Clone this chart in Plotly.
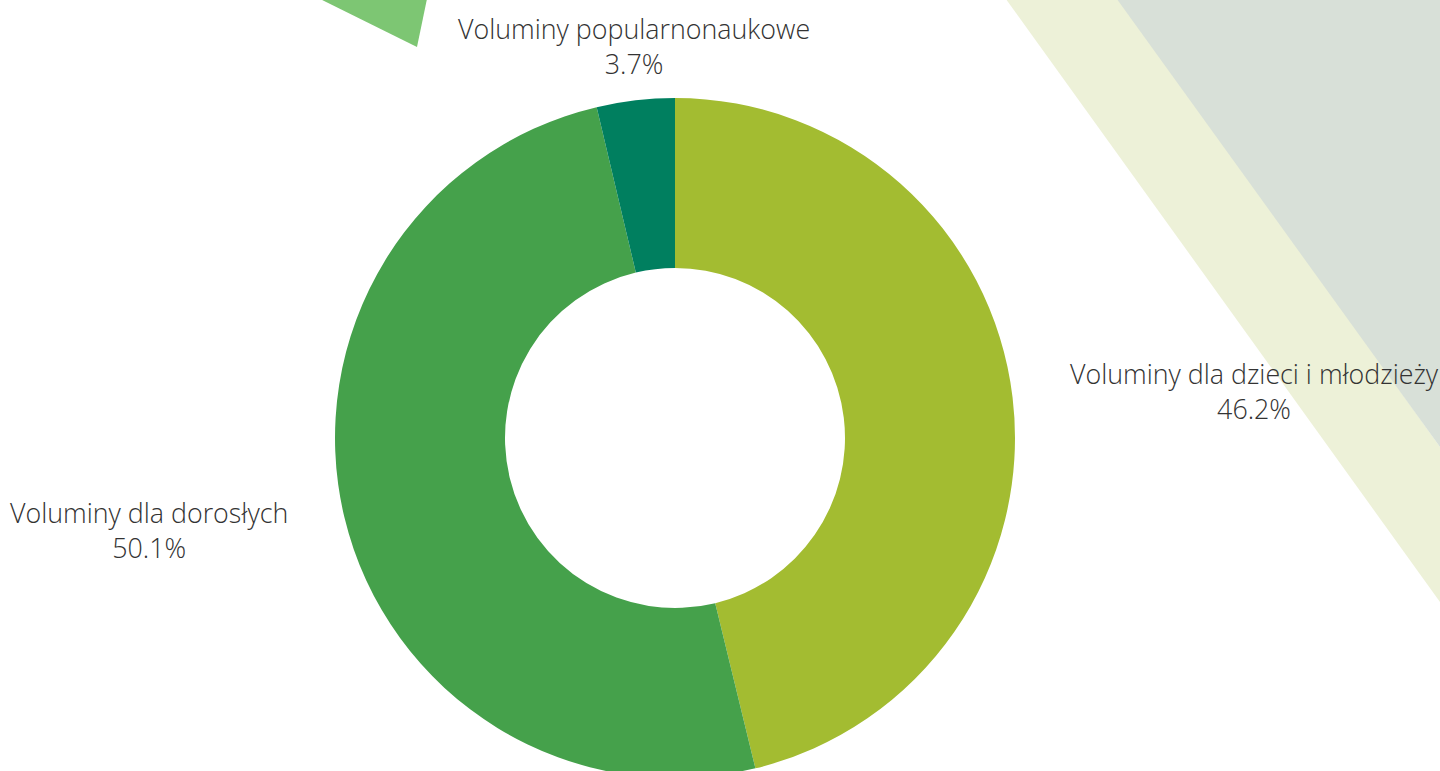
import math
import plotly.graph_objects as go

labels = ["Voluminy dla dzieci i młodzieży", "Voluminy dla dorosłych", "Voluminy popularnonaukowe"]
values = [46.2, 50.1, 3.7]
colors = ["#A3BC31", "#45A14B", "#007F5F"]

W, H = 1440, 800
cx, cy, r = 675, 438, 340
FONT = dict(family="Open Sans", size=26.8, color="#333333", weight=300)


def px_path(pts):
    s = ""
    for i, (x, y) in enumerate(pts):
        s += ("M" if i == 0 else "L") + f"{x / W:.5f},{1 - y / H:.5f} "
    return s + "Z"


fig = go.Figure()
fig.add_trace(go.Pie(
    labels=labels,
    values=values,
    hole=0.5,
    sort=False,
    direction="clockwise",
    rotation=0,
    marker=dict(colors=colors, line=dict(width=0)),
    textposition="none",
    hoverinfo="label+percent",
    showlegend=False,
    domain=dict(x=[(cx - r) / W, (cx + r) / W], y=[1 - (cy + r) / H, 1 - (cy - r) / H]),
))

# outside labels, placed along each slice's mid-angle (derived from the values)
total = sum(values)
annotations = []
cum = 0.0
for lab, v in zip(labels, values):
    mid = (cum + v / 2) / total * 2 * math.pi
    cum += v
    s, c = math.sin(mid), math.cos(mid)
    if abs(s) > 0.5:
        d = 56
        xa = "left" if s > 0 else "right"
        ya = "middle"
    else:
        d = 16
        xa = "center"
        ya = "bottom" if c > 0 else "top"
    px = cx + (r + d) * s
    py = cy - (r + d) * c
    annotations.append(dict(
        x=px / W, y=1 - py / H, xref="paper", yref="paper",
        text=f"{lab}<br>{v / total * 100:.1f}%",
        showarrow=False, xanchor=xa, yanchor=ya, align="center",
        font=FONT,
    ))

shapes = [
    dict(type="path", xref="paper", yref="paper", layer="below",
         path=px_path([(1003, -5), (1118, -5), (1440, 447), (1440, 602)]),
         fillcolor="#EDF1D8", line=dict(width=0)),
    dict(type="path", xref="paper", yref="paper", layer="below",
         path=px_path([(1114, -5), (1445, -5), (1445, 447), (1440, 447)]),
         fillcolor="#D8E0D8", line=dict(width=0)),
    dict(type="path", xref="paper", yref="paper", layer="below",
         path=px_path([(310, -6), (428, -6), (417, 47)]),
         fillcolor="#7DC673", line=dict(width=0)),
]

fig.update_layout(
    width=W, height=H,
    margin=dict(l=0, r=0, t=0, b=0),
    paper_bgcolor="white",
    plot_bgcolor="white",
    shapes=shapes,
    annotations=annotations,
    font=dict(family="Open Sans"),
)

fig.write_html(
    "out.html",
    config={"displayModeBar": False},
    post_script="document.body.style.margin='0';document.body.style.overflow='hidden';",
)
